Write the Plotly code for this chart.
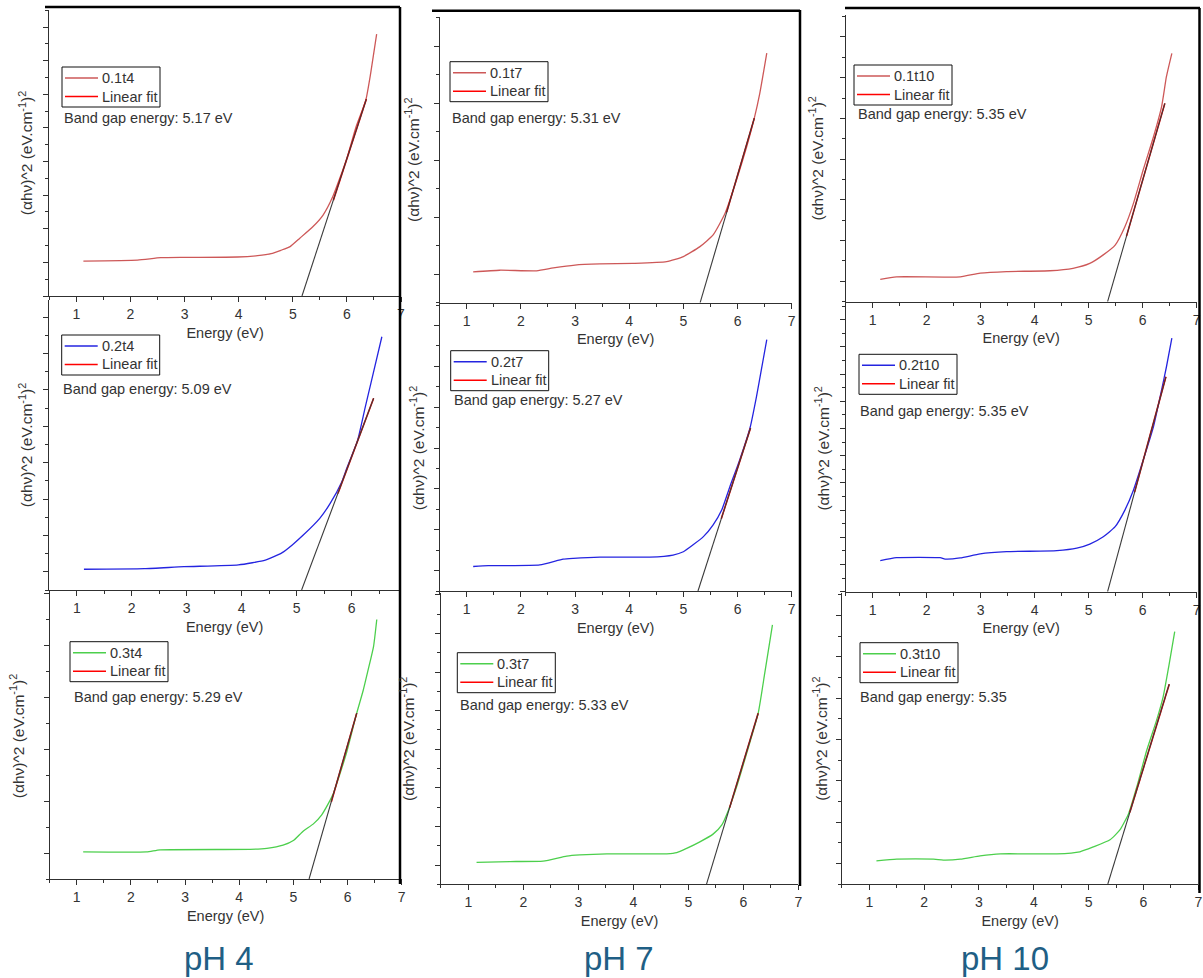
import plotly.graph_objects as go

W, H = 1203, 978

# ---------------- data (x = Energy eV, y = (ahv)^2 in tick units) ----------------
names = ["0.1t4", "0.2t4", "0.3t4", "0.1t7", "0.2t7", "0.3t7", "0.1t10", "0.2t10", "0.3t10"]
band_gap_labels = ["Band gap energy: 5.17 eV", "Band gap energy: 5.09 eV", "Band gap energy: 5.29 eV",
                   "Band gap energy: 5.31 eV", "Band gap energy: 5.27 eV", "Band gap energy: 5.33 eV",
                   "Band gap energy: 5.35 eV", "Band gap energy: 5.35 eV", "Band gap energy: 5.35"]
ph_labels = ["pH 4", "pH 7", "pH 10"]
x_ticks = [1, 2, 3, 4, 5, 6, 7]

x_01t4 = [1.13, 2.13, 2.56, 3.0, 3.98, 4.35, 4.6, 4.78, 4.95, 5.13, 5.37, 5.56, 5.74, 5.99, 6.17, 6.35, 6.44, 6.55]
y_01t4 = [1.04, 1.07, 1.14, 1.15, 1.16, 1.2, 1.26, 1.36, 1.47, 1.72, 2.06, 2.41, 2.96, 4.05, 5.04, 5.83, 6.63, 7.79]
x_02t4 = [1.13, 2.23, 2.95, 3.94, 4.43, 4.73, 4.92, 5.12, 5.42, 5.61, 5.82, 5.91, 6.11, 6.25, 6.35, 6.55]
y_02t4 = [0.57, 0.585, 0.64, 0.69, 0.82, 1.02, 1.24, 1.51, 1.97, 2.38, 2.97, 3.34, 4.12, 5.04, 5.68, 6.96]
x_03t4 = [1.12, 2.29, 2.54, 4.2, 4.51, 4.81, 5.0, 5.18, 5.37, 5.52, 5.65, 5.74, 5.98, 6.17, 6.29, 6.38, 6.48, 6.54]
y_03t4 = [0.52, 0.52, 0.56, 0.57, 0.59, 0.65, 0.74, 0.92, 1.06, 1.23, 1.46, 1.65, 2.42, 3.19, 3.63, 4.02, 4.47, 4.99]
x_01t7 = [1.12, 1.61, 2.29, 2.60, 3.0, 3.46, 4.07, 4.69, 5.0, 5.30, 5.55, 5.77, 5.98, 6.17, 6.31, 6.41, 6.54]
y_01t7 = [0.54, 0.57, 0.56, 0.61, 0.66, 0.68, 0.69, 0.72, 0.81, 0.98, 1.19, 1.57, 2.15, 2.74, 3.24, 3.67, 4.38]
x_02t7 = [1.12, 1.40, 2.35, 2.78, 2.97, 3.46, 4.38, 4.81, 5.0, 5.18, 5.37, 5.55, 5.71, 5.86, 6.04, 6.23, 6.35, 6.44, 6.54]
y_02t7 = [0.60, 0.62, 0.64, 0.78, 0.80, 0.83, 0.83, 0.88, 0.96, 1.13, 1.33, 1.62, 1.99, 2.56, 3.21, 3.99, 4.76, 5.42, 6.15]
x_03t7 = [1.15, 1.76, 2.36, 2.79, 3.03, 3.52, 4.61, 4.79, 4.97, 5.21, 5.45, 5.61, 5.73, 5.88, 6.06, 6.27, 6.39, 6.53]
y_03t7 = [0.57, 0.59, 0.60, 0.73, 0.76, 0.79, 0.79, 0.82, 0.93, 1.10, 1.30, 1.54, 1.92, 2.53, 3.39, 4.43, 5.47, 6.72]
x_01t10 = [1.14, 1.44, 2.62, 2.99, 3.48, 4.28, 4.71, 5.02, 5.27, 5.49, 5.67, 5.83, 6.01, 6.20, 6.35, 6.44, 6.54]
y_01t10 = [0.55, 0.61, 0.61, 0.70, 0.74, 0.76, 0.82, 0.94, 1.15, 1.39, 1.84, 2.42, 3.24, 4.05, 4.79, 5.53, 6.10]
x_02t10 = [1.14, 1.44, 2.25, 2.34, 2.62, 2.99, 3.48, 4.41, 4.78, 5.02, 5.27, 5.49, 5.67, 5.83, 6.01, 6.20, 6.35, 6.44, 6.54]
y_02t10 = [1.14, 1.25, 1.25, 1.20, 1.24, 1.39, 1.47, 1.51, 1.60, 1.75, 2.02, 2.39, 3.0, 3.74, 4.84, 6.07, 7.42, 8.27, 9.32]
x_03t10 = [1.13, 1.50, 2.17, 2.35, 2.66, 3.02, 3.39, 4.42, 4.84, 5.09, 5.39, 5.57, 5.73, 5.88, 6.06, 6.24, 6.36, 6.46, 6.57]
y_03t10 = [0.56, 0.60, 0.60, 0.58, 0.60, 0.68, 0.73, 0.73, 0.78, 0.90, 1.07, 1.31, 1.71, 2.36, 3.24, 3.97, 4.54, 5.26, 6.11]

# extrapolated Tauc line (black) and fitted segment (red): [x_start, x_end], [y_start, y_end]
extrap_x = [[5.17, 6.36], [5.09, 6.40], [5.29, 6.17], [5.31, 6.31], [5.27, 6.24], [5.33, 6.27], [5.35, 6.41], [5.35, 6.43], [5.35, 6.47]]
extrap_y = [[0, 5.86], [0, 5.27], [0, 3.19], [0, 3.24], [0, 3.99], [0, 4.43], [0, 4.87], [0, 7.90], [0, 4.84]]
fit_x = [[5.75, 6.36], [5.75, 6.40], [5.70, 6.17], [5.80, 6.31], [5.70, 6.24], [5.75, 6.27], [5.70, 6.41], [5.85, 6.43], [5.75, 6.47]]
fit_y = [[2.85, 5.86], [2.65, 5.27], [1.48, 3.19], [1.59, 3.24], [1.77, 3.99], [1.98, 4.43], [1.61, 4.87], [3.66, 7.90], [1.73, 4.84]]

series_x = [x_01t4, x_02t4, x_03t4, x_01t7, x_02t7, x_03t7, x_01t10, x_02t10, x_03t10]
series_y = [y_01t4, y_02t4, y_03t4, y_01t7, y_02t7, y_03t7, y_01t10, y_02t10, y_03t10]

# ---------------- layout geometry (pixels) ----------------
geo = [
    dict(xd=(49.3, 401), xr=(0.5, 7.0), yd=(10, 296), yr=8.51, t0=0.0, yoff=22),
    dict(xd=(49.3, 400), xr=(0.5, 6.88), yd=(300, 590), yr=7.97, t0=0.5, yoff=22),
    dict(xd=(49.6, 401.7), xr=(0.5, 7.0), yd=(593, 879), yr=5.5, t0=0.5, yoff=31),
    dict(xd=(439.6, 791.7), xr=(0.5, 7.0), yd=(16.7, 302.7), yr=5.02, t0=0.5, yoff=26),
    dict(xd=(439.6, 791.7), xr=(0.5, 7.0), yd=(305, 591), yr=7.0, t0=0.5, yoff=21),
    dict(xd=(440.8, 798.3), xr=(0.5, 7.0), yd=(593.3, 884.3), yr=7.54, t0=0.5, yoff=32),
    dict(xd=(845.7, 1196.7), xr=(0.5, 7.0), yd=(15, 301.7), yr=7.04, t0=0.5, yoff=28),
    dict(xd=(845.7, 1196.7), xr=(0.5, 7.0), yd=(305, 591.7), yr=10.54, t0=0.0, yoff=22),
    dict(xd=(841.9, 1198.3), xr=(0.5, 7.0), yd=(593.3, 884), yr=7.04, t0=0.5, yoff=20),
]
legend_pos = [(62, 67), (61.7, 335), (70, 641.7), (450, 61.7), (450.7, 350.7), (457.3, 652.7),
              (854, 65), (859, 354.3), (860, 642.7)]
band_pos = [(62, 118), (61, 389), (71.7, 697), (450, 118), (452, 400), (458, 705), (856, 114), (858, 411), (858, 697)]
ph_pos = [(219, 958), (619, 958), (1005, 958)]

RED = "#cd5858"
BLUE = "#2424e0"
GREEN = "#4ccf4c"
FIT_RED = "#ff0000"
colors = [RED, BLUE, GREEN, RED, BLUE, GREEN, RED, BLUE, GREEN]

FONT = "Liberation Sans, Arial, sans-serif"
TXT = "#333333"
AX = "#303030"


def px_x(p):
    return p / W


def px_y(p):
    return 1 - p / H


fig = go.Figure()
layout = dict(width=W, height=H, margin=dict(l=0, r=0, t=0, b=0),
              paper_bgcolor="white", plot_bgcolor="white",
              font=dict(family=FONT, color=TXT, size=14), showlegend=False)

annotations = []
shapes = []

for i in range(9):
    k = i + 1
    g = geo[i]
    xa = "x" if k == 1 else f"x{k}"
    ya = "y" if k == 1 else f"y{k}"

    fig.add_trace(go.Scatter(x=series_x[i], y=series_y[i], mode="lines", name=names[i],
                             line=dict(color=colors[i], width=1.3, shape="spline", smoothing=0.5),
                             xaxis=xa, yaxis=ya))
    fig.add_trace(go.Scatter(x=fit_x[i], y=fit_y[i], mode="lines", name="Linear fit",
                             line=dict(color=FIT_RED, width=1.6),
                             xaxis=xa, yaxis=ya))
    fig.add_trace(go.Scatter(x=extrap_x[i], y=extrap_y[i], mode="lines", name="extrapolation",
                             line=dict(color="#3a3a3a", width=1.1),
                             xaxis=xa, yaxis=ya))

    xkey = "xaxis" if k == 1 else f"xaxis{k}"
    ykey = "yaxis" if k == 1 else f"yaxis{k}"
    layout[xkey] = dict(
        domain=[px_x(g["xd"][0]), px_x(g["xd"][1])], range=list(g["xr"]), anchor=ya,
        tickmode="array", tickvals=x_ticks, ticktext=[str(t) for t in x_ticks],
        ticks="outside", ticklen=5, tickcolor=AX, tickwidth=1,
        minor=dict(ticks="outside", ticklen=3, dtick=0.5, tick0=0.5, tickcolor=AX),
        showline=True, linecolor=AX, linewidth=1.2, mirror=False,
        showgrid=False, zeroline=False, automargin=False,
        tickfont=dict(size=14, color=TXT, family=FONT),
        title=dict(text="Energy (eV)", font=dict(size=14.5, color=TXT, family=FONT), standoff=6),
    )
    layout[ykey] = dict(
        domain=[px_y(g["yd"][1]), px_y(g["yd"][0])], range=[0, g["yr"]], anchor=xa,
        tickmode="linear", tick0=g["t0"], dtick=1, showticklabels=False,
        ticks="outside", ticklen=5, tickcolor=AX, tickwidth=1,
        minor=dict(ticks="outside", ticklen=3, dtick=0.5, tick0=0, tickcolor=AX),
        showline=True, linecolor=AX, linewidth=1.2, mirror=False,
        showgrid=False, zeroline=False, automargin=False,
        title=dict(text="(αhν)^2 (eV.cm<sup>-1</sup>)<sup>2</sup>",
                   font=dict(size=15.5, color=TXT, family=FONT), standoff=max(g["yoff"] - 16, 0)),
    )

    # legend box drawn like the original Origin legend
    lx, ly = legend_pos[i]
    shapes.append(dict(type="rect", xref="paper", yref="paper",
                       x0=px_x(lx), x1=px_x(lx + 98), y0=px_y(ly + 40), y1=px_y(ly),
                       line=dict(color="#111111", width=1), fillcolor="white", layer="above"))
    for row, (col, label) in enumerate([(colors[i], names[i]), (FIT_RED, "Linear fit")]):
        yy = ly + 11 + row * 18.5
        shapes.append(dict(type="line", xref="paper", yref="paper",
                           x0=px_x(lx + 3), x1=px_x(lx + 36), y0=px_y(yy), y1=px_y(yy),
                           line=dict(color=col, width=1.4), layer="above"))
        annotations.append(dict(x=px_x(lx + 38), y=px_y(yy), xref="paper", yref="paper",
                                xanchor="left", yanchor="middle", showarrow=False,
                                text=label, font=dict(size=14.5, color=TXT, family=FONT)))

    bx, by = band_pos[i]
    annotations.append(dict(x=px_x(bx), y=px_y(by), xref="paper", yref="paper",
                            xanchor="left", yanchor="middle", showarrow=False,
                            text=band_gap_labels[i], font=dict(size=14.5, color=TXT, family=FONT)))

for j, lab in enumerate(ph_labels):
    px_, py_ = ph_pos[j]
    annotations.append(dict(x=px_x(px_), y=px_y(py_), xref="paper", yref="paper",
                            xanchor="center", yanchor="middle", showarrow=False,
                            text=lab, font=dict(size=33, color="#1f5f85", family=FONT)))

# screenshot frame lines
frames = [((45, 7), (400, 7)), ((400, 7), (400, 884)),
          ((432, 10.7), (800, 10.7)), ((800, 10), (800, 886)),
          ((845, 8), (1200, 8)), ((1199.5, 8), (1199.5, 893))]
for (x0, y0), (x1, y1) in frames:
    shapes.append(dict(type="line", xref="paper", yref="paper",
                       x0=px_x(x0), y0=px_y(y0), x1=px_x(x1), y1=px_y(y1),
                       line=dict(color="#000000", width=2.5)))

layout["annotations"] = annotations
layout["shapes"] = shapes
fig.update_layout(**layout)
fig.write_html("out.html", config={"displayModeBar": False},
               post_script="document.body.style.margin='0';document.body.style.padding='0';")
